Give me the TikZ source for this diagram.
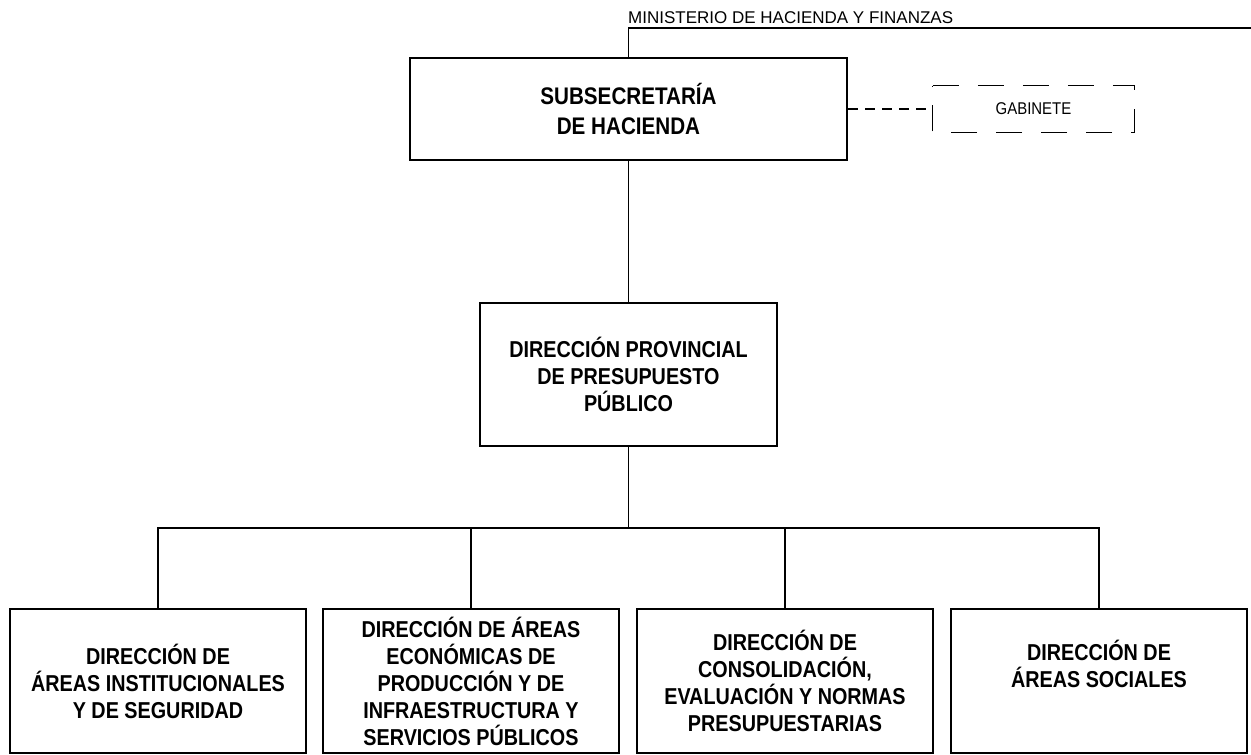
\documentclass[tikz,border=0pt]{standalone}
\usepackage{fontspec}
\setmainfont{Liberation Sans}
\newfontfamily\boxfont{Liberation Sans}[FakeStretch=0.86]
\newfontfamily\gabfont{Liberation Sans}[FakeStretch=0.88]

\tikzset{
  unidad/.style={draw, line width=2pt, rectangle, align=center, inner sep=0pt,
    minimum width=296pt, minimum height=144pt,
    font=\boxfont\bfseries\fontsize{23}{27}\selectfont},
  enlace/.style={line width=1.5pt},
  asesor/.style={line width=1.8pt, dash pattern=on 10pt off 7pt},
  borde asesor/.style={line width=1.1pt, dash pattern=on 26pt off 19pt},
}

\begin{document}
\begin{tikzpicture}[x=1pt,y=-1pt]
\useasboundingbox (0,0) rectangle (1251,755);

% ministerio
\coordinate (mtop) at (628.5,28);
\coordinate (mend) at (1251,28);
\node[anchor=base west, inner sep=0pt, font=\fontsize{17}{20}\selectfont] (mhf) at (628,23) {MINISTERIO DE HACIENDA Y FINANZAS};

% unidades
\node[unidad, minimum width=437pt, minimum height=102pt, font=\boxfont\bfseries\fontsize{24}{30}\selectfont] (subsec) at (628.5,109) {\raisebox{-2pt}{SUBSECRETARÍA}\\\raisebox{-2pt}{DE HACIENDA}};
\node[inner sep=0pt, minimum width=201pt, minimum height=46pt, font=\gabfont\fontsize{17}{20}\selectfont] (gab) at (1033.5,109) {\raisebox{-3pt}{GABINETE}};
\node[unidad, minimum width=297pt, minimum height=143pt] (dppp) at (628.5,374.5) {DIRECCIÓN PROVINCIAL\\DE PRESUPUESTO\\PÚBLICO};

\node[unidad] (dai) at (158,681) {DIRECCIÓN DE\\ÁREAS INSTITUCIONALES\\Y DE SEGURIDAD};
\node[unidad] (dae) at (471,681) {DIRECCIÓN DE ÁREAS\\ECONÓMICAS DE\\PRODUCCIÓN Y DE\\INFRAESTRUCTURA Y\\SERVICIOS PÚBLICOS};
\node[unidad] (dcn) at (785,681) {DIRECCIÓN DE\\CONSOLIDACIÓN,\\EVALUACIÓN Y NORMAS\\PRESUPUESTARIAS};
\node[unidad] (das) at (1099,681) {DIRECCIÓN DE\\ÁREAS SOCIALES\\\strut};

% enlaces
\draw[enlace] (mend) -- (mtop) -- (subsec.north);
\draw[enlace] (subsec) -- (dppp);
\draw[asesor] (subsec.east) -- (gab.west);
\draw[borde asesor] (gab.north west) -- (gab.north east) -- (gab.south east) -- (gab.south west) -- cycle;

\coordinate (bus) at (628.5,528);
\draw[enlace] (dppp) -- (bus);
\foreach \u in {dai,dae,dcn,das}
  \draw[enlace] (bus) -| (\u);

\end{tikzpicture}
\end{document}
